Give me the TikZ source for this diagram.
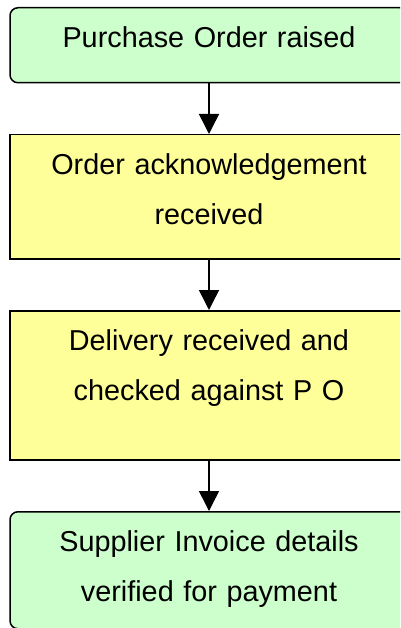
\documentclass[tikz,border=0pt]{standalone}
\usepackage{fontspec}
\setmainfont{Liberation Sans}
\usepackage{xcolor}
\usetikzlibrary{positioning,arrows.meta}
\definecolor{termgreen}{RGB}{204,255,204}
\definecolor{procyellow}{RGB}{255,255,153}

\begin{document}
\begin{tikzpicture}[x=1pt,y=-1pt,node distance=50.5pt,
  box/.style={draw,line width=1.5pt,inner sep=0pt,text width=398pt,align=center,
    text height=40pt,font=\fontsize{28.8}{50}\selectfont},
  termbox/.style={box,fill=termgreen,rounded corners=8pt},
  procbox/.style={box,fill=procyellow},
  flow/.style={line width=1.5pt,-{Triangle[width=20pt,length=20pt]}}]
\path[use as bounding box,clip] (0,0) rectangle (400,628);
\node[termbox,text depth=35pt,anchor=north] (order) at (209,7) {Purchase Order raised};
\node[procbox,text depth=84pt,below=of order] (ack) {Order acknowledgement\\received};
\node[procbox,text depth=109pt,below=of ack] (delivery) {Delivery received and\\checked against P O};
\node[termbox,text depth=77pt,below=of delivery] (invoice) {Supplier Invoice details\\verified for payment};
\draw[flow] (order) -- (ack);
\draw[flow] (ack) -- (delivery);
\draw[flow] (delivery) -- (invoice);
\end{tikzpicture}
\end{document}
